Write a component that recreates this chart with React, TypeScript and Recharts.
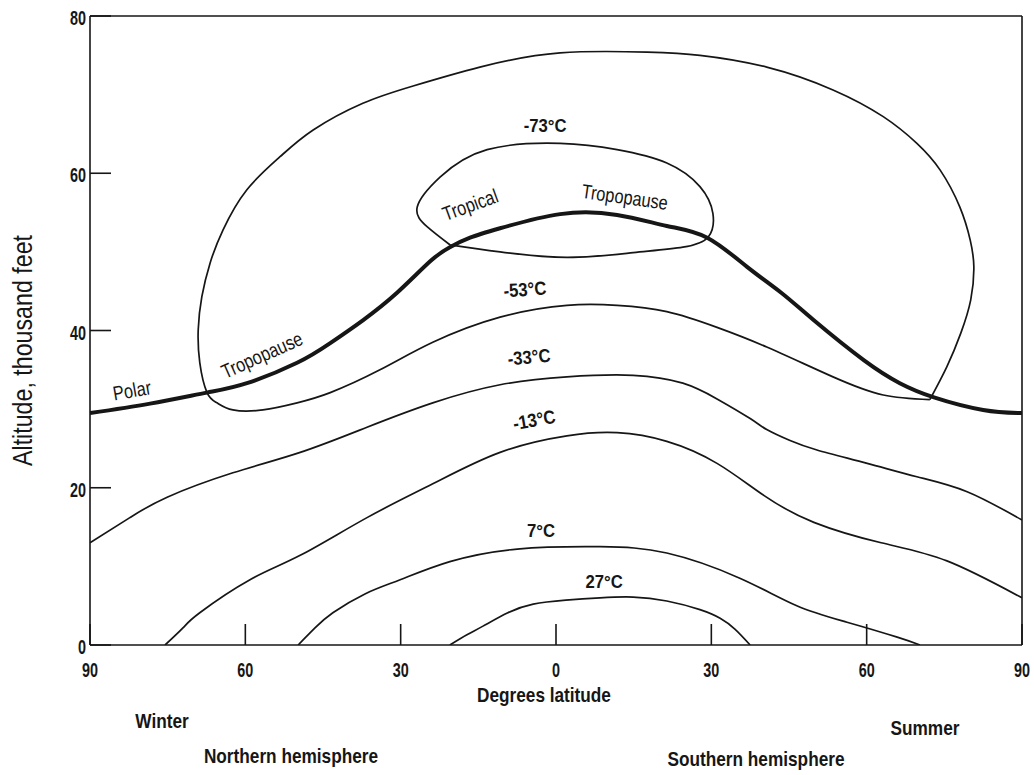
import { LineChart, Line, XAxis, YAxis, ReferenceDot, Label } from 'recharts'

type Pt = { x: number; y: number }

const FONT = "'Liberation Sans', Arial, sans-serif"
const INK = '#161616'

const xTicks = [-90, -60, -30, 0, 30, 60, 90]
const yTicks = [0, 20, 40, 60, 80]

const pts = (a: number[][]): Pt[] => a.map(([x, y]) => ({ x, y }))

// thick line, polar -> tropical tropopause
const tropopause = pts([
  [-90, 29.5], [-78.4, 30.7], [-67.4, 32.1], [-59.7, 33.3], [-50.0, 35.9], [-43.6, 38.4],
  [-37.3, 41.3], [-30.7, 44.8], [-24.3, 48.8], [-20.5, 50.6], [-16.6, 51.8], [-10.8, 53.0],
  [0.8, 54.8], [11.8, 54.7], [21.4, 53.3], [29.2, 51.8], [36.9, 48.1], [43.5, 44.8],
  [49.8, 41.3], [59.5, 36.2], [66.4, 33.3], [73.0, 31.5], [82.5, 29.9], [90, 29.5],
])

// -53C isotherm: closed loop, starts and ends at the cusp on the right
const iso53 = pts([
  [72.2, 31.2], [63.2, 31.8], [53.5, 34.1], [40.7, 37.9], [31.1, 40.4], [21.4, 42.4],
  [11.8, 43.2], [2.1, 43.2], [-10.8, 41.7], [-23.8, 38.5], [-34.0, 35.0], [-43.6, 32.1],
  [-50.0, 30.8], [-56.6, 29.9], [-62.4, 29.9], [-65.5, 30.8], [-67.4, 32.1], [-68.8, 35.9],
  [-69.1, 40.1], [-68.4, 44.3], [-66.8, 48.6], [-64.3, 52.8], [-59.7, 57.9], [-53.3, 62.1],
  [-46.9, 65.5], [-37.3, 68.9], [-27.6, 71.1], [-14.7, 73.5], [0.8, 75.3], [17.6, 75.4],
  [27.8, 75.0], [40.7, 73.5], [53.5, 70.6], [63.2, 67.2], [69.7, 63.8], [74.2, 60.4],
  [78.0, 55.7], [80.0, 51.5], [80.7, 48.1], [80.1, 43.9], [78.2, 39.7], [75.5, 35.4],
  [72.2, 31.2],
])

// -73C isotherm around the tropical tropopause
const iso73 = pts([
  [-20.5, 50.9], [-10.8, 50.0], [2.1, 49.3], [14.9, 49.9], [24.5, 50.6], [29.4, 51.9],
  [30.3, 54.9], [27.8, 58.3], [21.4, 61.3], [11.8, 63.0], [0.8, 63.8], [-13.3, 63.0],
  [-22.4, 59.5], [-26.8, 55.7], [-24.9, 53.2], [-20.5, 50.9],
])

const iso33 = pts([
  [-90, 13.0], [-82.3, 16.2], [-75.1, 18.8], [-62.4, 21.9], [-49.4, 24.5], [-36.5, 27.7],
  [-23.8, 30.8], [-10.8, 33.1], [2.1, 34.1], [14.9, 34.3], [24.5, 33.3], [31.1, 31.3],
  [37.5, 28.8], [40.7, 27.4], [45.2, 26.0], [50.4, 24.8], [60.1, 23.1], [69.7, 21.4],
  [79.4, 19.5], [90, 15.9],
])

const iso13 = pts([
  [-75.5, 0], [-72.0, 2.2], [-68.8, 4.1], [-59.1, 8.3], [-49.4, 11.4], [-36.5, 16.2],
  [-23.8, 20.5], [-10.8, 24.5], [2.1, 26.6], [11.8, 27.0], [21.4, 25.9], [31.1, 23.1],
  [40.2, 19.0], [49.8, 15.6], [62.8, 13.0], [75.5, 10.7], [90, 6.0],
])

const iso7 = pts([
  [-49.8, 0], [-46.5, 2.2], [-43.1, 4.1], [-36.9, 6.5], [-30.1, 8.3], [-20.5, 10.6],
  [-7.5, 12.2], [8.5, 12.5], [21.4, 11.7], [35.5, 8.5], [46.5, 5.0], [56.2, 2.9],
  [65.9, 1.0], [70.3, 0],
])

const iso27 = pts([
  [-20.5, 0], [-17.2, 1.3], [-14.1, 2.4], [-9.3, 4.1], [-4.4, 5.2], [1.9, 5.7],
  [8.5, 6.0], [14.9, 6.1], [21.4, 5.6], [27.8, 4.5], [31.7, 3.4], [34.6, 2.0], [37.5, 0],
])

const contourLabels = [
  { text: '-73°C', x: -2.1, y: 66.1 },
  { text: 'Tropical', x: -16.6, y: 56.0 },
  { text: 'Tropopause', x: 13.3, y: 57.0 },
  { text: '-53°C', x: -6.0, y: 45.2 },
  { text: '-33°C', x: -5.2, y: 36.6 },
  { text: '-13°C', x: -4.2, y: 28.6 },
  { text: '7°C', x: -2.9, y: 14.5 },
  { text: '27°C', x: 9.3, y: 8.1 },
  { text: 'Polar', x: -81.9, y: 32.4 },
  { text: 'Tropopause', x: -56.8, y: 36.9 },
]
const labelAngles = [0, -20, 8, -4, -5, -10, 0, 0, -10, -24]

const notes = [
  { t: 'Winter', x: 162, y: 720 },
  { t: 'Northern hemisphere', x: 291, y: 755 },
  { t: 'Summer', x: 925, y: 727 },
  { t: 'Southern hemisphere', x: 756, y: 758 },
]

const thin = [iso53, iso73, iso33, iso13, iso7, iso27]

// condensed look: the page has no narrow face, so squeeze Liberation Sans
function Narrow(props: {
  x: number
  y: number
  size: number
  sx?: number
  angle?: number
  weight?: number
  anchor?: string
  baseline?: string
  children: any
}) {
  const { x, y, size, sx = 0.82, angle = 0, weight = 700, anchor = 'middle', baseline } = props
  return (
    <text
      transform={`translate(${x} ${y}) rotate(${angle}) scale(${sx} 1)`}
      textAnchor={anchor}
      dominantBaseline={baseline}
      fontSize={size}
      fontWeight={weight}
      fontFamily={FONT}
      fill={INK}
    >
      {props.children}
    </text>
  )
}

export default function App() {
  return (
    <div style={{ position: 'absolute', left: 0, top: 0, width: 1034, height: 775, background: '#fff' }}>
      <LineChart width={1034} height={775} margin={{ top: 15, right: 11, bottom: 65, left: 0 }}>
        <XAxis
          type="number"
          dataKey="x"
          domain={[-90, 90]}
          ticks={xTicks}
          tick={(p: any) => (
            <Narrow x={p.x} y={p.y + 15} size={20} sx={0.72}>
              {String(Math.abs(p.payload.value))}
            </Narrow>
          )}
          tickSize={-21}
          tickMargin={38}
          height={65}
          stroke={INK}
          strokeWidth={1.6}
          allowDataOverflow
        >
          <Label
            content={({ viewBox }: any) => (
              <Narrow x={viewBox.x + viewBox.width / 2 - 12} y={viewBox.y + 57} size={21}>
                Degrees latitude
              </Narrow>
            )}
          />
        </XAxis>
        <XAxis
          xAxisId="top"
          orientation="top"
          type="number"
          dataKey="x"
          domain={[-90, 90]}
          ticks={xTicks}
          tick={() => <g />}
          tickSize={-21}
          height={1}
          stroke={INK}
          strokeWidth={1.6}
        />
        <YAxis
          type="number"
          domain={[0, 80]}
          ticks={yTicks}
          tick={(p: any) => (
            <Narrow x={p.x} y={p.y + 9} size={20} sx={0.72} anchor="end">
              {String(p.payload.value)}
            </Narrow>
          )}
          tickSize={-21}
          tickMargin={25}
          width={90}
          stroke={INK}
          strokeWidth={1.6}
          allowDataOverflow
        >
          <Label
            content={({ viewBox }: any) => (
              <Narrow
                x={22}
                y={viewBox.y + viewBox.height / 2 + 20}
                angle={-90}
                size={27}
                sx={0.86}
                weight={400}
                baseline="central"
              >
                Altitude, thousand feet
              </Narrow>
            )}
          />
        </YAxis>
        <YAxis
          yAxisId="right"
          orientation="right"
          type="number"
          domain={[0, 80]}
          ticks={yTicks}
          tick={() => <g />}
          tickSize={-21}
          width={1}
          stroke={INK}
          strokeWidth={1.6}
        />
        {thin.map((d, i) => (
          <Line
            key={i}
            data={d}
            dataKey="y"
            type="natural"
            stroke={INK}
            strokeWidth={1.7}
            dot={false}
            activeDot={false}
            isAnimationActive={false}
          />
        ))}
        <Line
          data={tropopause}
          dataKey="y"
          type="natural"
          stroke={INK}
          strokeWidth={4}
          dot={false}
          activeDot={false}
          isAnimationActive={false}
        />
        {contourLabels.map((l, i) => {
          const temp = l.text.includes('C')
          return (
            <ReferenceDot
              key={'l' + i}
              x={l.x}
              y={l.y}
              r={0}
              shape={(p: any) => (
                <Narrow
                  x={p.cx}
                  y={p.cy}
                  angle={labelAngles[i]}
                  size={temp ? 19 : 20}
                  sx={temp ? 0.88 : 0.82}
                  weight={temp ? 700 : 400}
                  baseline="central"
                >
                  {l.text}
                </Narrow>
              )}
            />
          )
        })}
      </LineChart>
      {notes.map((n) => (
        <div
          key={n.t}
          style={{
            position: 'absolute',
            left: n.x,
            top: n.y,
            transform: 'translate(-50%, -50%) scaleX(0.82)',
            whiteSpace: 'nowrap',
            fontFamily: FONT,
            fontWeight: 700,
            fontSize: 21,
            lineHeight: 1,
            color: INK,
          }}
        >
          {n.t}
        </div>
      ))}
    </div>
  )
}
